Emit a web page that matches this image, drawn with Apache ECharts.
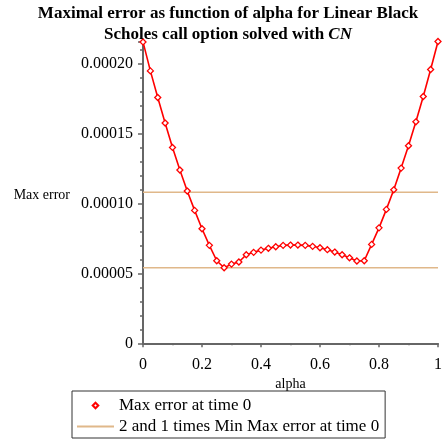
<!DOCTYPE html>
<html>
<head>
<meta charset="utf-8">
<script src="https://cdn.jsdelivr.net/npm/echarts@6/dist/echarts.min.js"></script>
<style>html,body{margin:0;padding:0;background:#fff}#c{width:445px;height:439px}</style>
</head>
<body>
<div id="c"></div>
<script>
var alphaValues = [0,0.025,0.05,0.075,0.1,0.125,0.15,0.175,0.2,0.225,0.25,0.275,0.3,0.325,0.35,0.375,0.4,0.425,0.45,0.475,0.5,0.525,0.55,0.575,0.6,0.625,0.65,0.675,0.7,0.725,0.75,0.775,0.8,0.825,0.85,0.875,0.9,0.925,0.95,0.975,1];
var maxErrorValues = [21.54e-5,19.47e-5,17.57e-5,15.74e-5,14.00e-5,12.38e-5,10.88e-5,9.50e-5,8.19e-5,7.00e-5,5.90e-5,5.40e-5,5.66e-5,5.81e-5,6.33e-5,6.50e-5,6.66e-5,6.79e-5,6.90e-5,7.00e-5,7.02e-5,7.02e-5,7.00e-5,6.93e-5,6.83e-5,6.69e-5,6.52e-5,6.33e-5,6.11e-5,5.88e-5,5.90e-5,7.07e-5,8.25e-5,9.57e-5,10.97e-5,12.52e-5,14.12e-5,15.83e-5,17.64e-5,19.57e-5,21.57e-5];
var yTickValues = [0,0.00005,0.0001,0.00015,0.0002];
var xTickValues = [0,0.2,0.4,0.6,0.8,1];
var seriesName = 'Max error at time 0';
var refName = '2 and 1 times Min Max error at time 0';
var refMultipliers = [2,1];

var minErr = Math.min.apply(null, maxErrorValues);
var serif = '"Liberation Serif","Times New Roman",serif';

var series = [{
  name: seriesName,
  type: 'line',
  data: alphaValues.map(function(a,i){return [a, maxErrorValues[i]];}),
  symbol: 'diamond',
  symbolSize: 6,
  showAllSymbol: true,
  clip: false,
  lineStyle: {color: '#ff0000', width: 1.6},
  itemStyle: {color: '#ffffff', borderColor: '#ff0000', borderWidth: 1.3},
  z: 3
}];
refMultipliers.forEach(function(m){
  series.push({
    name: refName,
    type: 'line',
    data: [[alphaValues[0], m*minErr],[alphaValues[alphaValues.length-1], m*minErr]],
    symbol: 'none',
    lineStyle: {color: '#E0B88A', width: 1.6},
    itemStyle: {color: '#E0B88A'},
    z: 2
  });
});

var chart = echarts.init(document.getElementById('c'));
chart.setOption({
  animation: false,
  backgroundColor: '#fff',
  title: {
    text: '{b|Maximal error as function of alpha for Linear Black}\n{b|Scholes call option solved with }{i|CN}',
    left: 223, top: -2, textAlign: 'center',
    textStyle: {
      rich: {
        b: {fontFamily: serif, fontWeight: 'bold', fontSize: 17, color: '#000', lineHeight: 21},
        i: {fontFamily: serif, fontWeight: 'bold', fontStyle: 'italic', fontSize: 17, color: '#000', lineHeight: 21}
      }
    }
  },
  grid: {left: 143, right: 2, top: 41.5, bottom: 95.7, containLabel: false},
  legend: {
    orient: 'vertical',
    left: 72, top: 391,
    width: 314,
    padding: [6, 6, 3, 4],
    itemGap: 4,
    itemWidth: 37, itemHeight: 7,
    borderColor: '#333', borderWidth: 1,
    textStyle: {fontFamily: serif, fontSize: 17, color: '#000'},
    data: [
      {name: seriesName, lineStyle: {opacity: 0}},
      {name: refName, itemStyle: {opacity: 0}}
    ]
  },
  xAxis: {
    type: 'value', min: 0, max: 1, interval: 0.2,
    name: 'alpha', nameLocation: 'middle', nameGap: 22,
    nameTextStyle: {fontFamily: serif, fontSize: 14, color: '#000'},
    axisLine: {onZero: false, lineStyle: {color: '#666', width: 2}},
    axisTick: {show: true, length: 4, lineStyle: {color: '#666', width: 1.5}},
    minorTick: {show: true, splitNumber: 2, length: 2, lineStyle: {color: '#666', width: 1.5}},
    axisLabel: {fontFamily: serif, fontSize: 16, color: '#000', margin: 13,
      formatter: function(v){ return String(+v.toFixed(1)); }},
    splitLine: {show: false}
  },
  yAxis: {
    type: 'value', min: 0, max: 0.0002157, interval: 0.00005,
    name: 'Max error', nameLocation: 'middle', nameRotate: 0, nameGap: 73,
    nameTextStyle: {fontFamily: serif, fontSize: 14, color: '#000', align: 'right', verticalAlign: 'top', lineHeight: 6},
    axisLine: {onZero: false, lineStyle: {color: '#666', width: 2}},
    axisTick: {show: true, length: 5, lineStyle: {color: '#666', width: 1.5}},
    minorTick: {show: true, splitNumber: 5, length: 3, lineStyle: {color: '#666', width: 1.5}},
    axisLabel: {fontFamily: serif, fontSize: 16, color: '#000', margin: 10, showMaxLabel: false,
      formatter: function(v){ return v === 0 ? '0' : v.toFixed(5); }},
    splitLine: {show: false}
  },
  series: series
});
</script>
</body>
</html>
